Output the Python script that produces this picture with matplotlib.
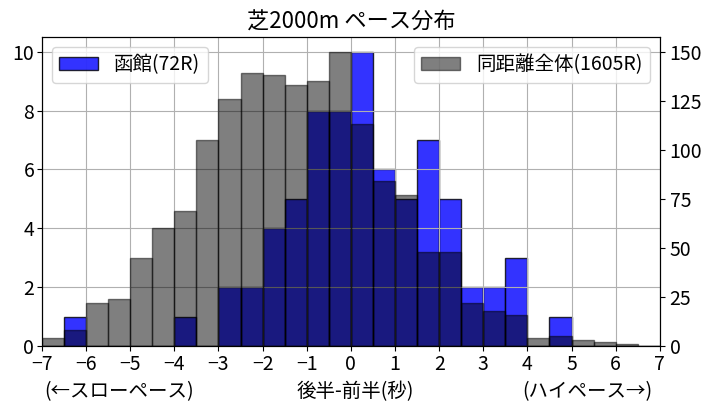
import numpy as np
import matplotlib
matplotlib.use('Agg')
import matplotlib.pyplot as plt

plt.rcParams['font.family'] = ['Noto Sans CJK JP', 'DejaVu Sans']

bins = np.arange(-7, 7.01, 0.5)
# 後半-前半 の度数（ビン幅0.5秒, -7 から）
hako = [0, 1, 0, 0, 0, 0, 1, 0, 2, 2, 4, 5, 8, 8,
        10, 6, 5, 7, 5, 2, 2, 3, 0, 1, 0, 0, 0, 0]
zentai = [4, 8, 22, 24, 45, 60, 69, 105, 126, 139, 138, 133, 135, 150,
          113, 84, 77, 48, 48, 22, 18, 16, 4, 5, 3, 2, 1, 0]

centers = bins[:-1] + 0.25

fig = plt.figure(figsize=(7.11, 4.11), dpi=100)
ax1 = fig.add_axes([0.059, 0.158, 0.869, 0.752])
ax1.hist(centers, bins=bins, weights=hako, color='blue', alpha=0.8,
         edgecolor='black', label='函館(72R)')
ax1.grid(True)
ax2 = ax1.twinx()
ax2.hist(centers, bins=bins, weights=zentai, color='black', alpha=0.5,
         edgecolor='black', label='同距離全体(1605R)')

ax1.set_xlim(-7, 7)
ax1.set_xticks(range(-7, 8))
ax1.tick_params(labelsize=14, pad=2)
ax2.tick_params(labelsize=14)
ax1.legend(loc='upper left', fontsize=14)
ax2.legend(loc='upper right', fontsize=14)
ax1.set_title('芝2000m ペース分布', fontsize=16)

fig.text(0.062, 0.048, '(←スローペース)', fontsize=14, ha='left', va='center')
fig.text(0.5, 0.048, '後半-前半(秒)', fontsize=14, ha='center', va='center')
fig.text(0.918, 0.048, '(ハイペース→)', fontsize=14, ha='right', va='center')

plt.savefig('out.png', dpi=100)
